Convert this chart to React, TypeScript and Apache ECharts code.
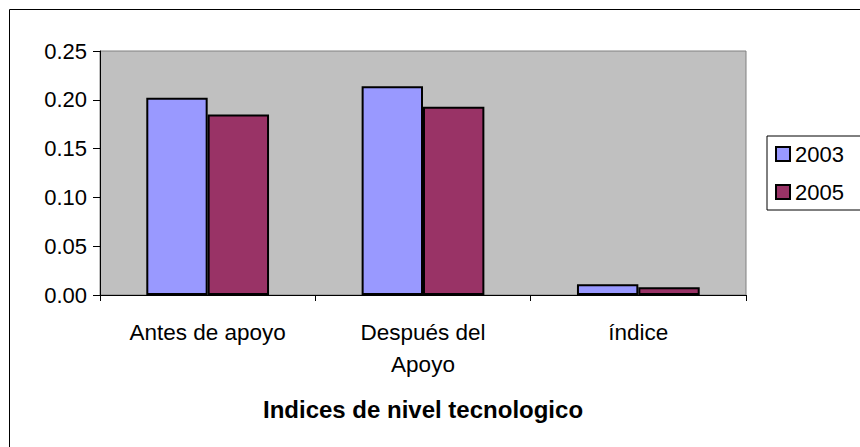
import React, { useEffect, useRef } from "react";
import * as echarts from "echarts";

const categories = ["Antes de apoyo", "Después del\nApoyo", "índice"];
const values2003 = [0.202, 0.214, 0.011];
const values2005 = [0.185, 0.193, 0.008];
const seriesNames = ["2003", "2005"];
const yTicks = { min: 0, max: 0.25, interval: 0.05 };
const axisTitle = "Indices de nivel tecnologico";

const FONT = "Liberation Sans, Arial, sans-serif";

export default function App() {
  const ref = useRef<HTMLDivElement>(null);
  useEffect(() => {
    if (!ref.current) return;
    const chart = echarts.init(ref.current, null, { renderer: "svg" });
    chart.setOption({
      animation: false,
      backgroundColor: "#FFFFFF",
      textStyle: { fontFamily: FONT },
      graphic: [
        {
          type: "rect",
          shape: { x: 9.5, y: 9.5, width: 900, height: 500 },
          style: { fill: "none", stroke: "#000", lineWidth: 1 },
          silent: true,
        },
      ],
      grid: {
        left: 100,
        top: 51,
        right: 114,
        bottom: 152,
        show: true,
        backgroundColor: "#C0C0C0",
        borderColor: "#808080",
        borderWidth: 1,
        containLabel: false,
      },
      legend: {
        orient: "vertical",
        left: 767,
        top: 136,
        data: seriesNames,
        icon: "rect",
        itemWidth: 14,
        itemHeight: 14,
        itemGap: 16,
        itemStyle: { borderColor: "#000", borderWidth: 2 },
        borderColor: "#000",
        borderWidth: 1,
        padding: [7, 30, 7, 8],
        textStyle: { fontFamily: FONT, fontSize: 22, color: "#000" },
      },
      xAxis: {
        type: "category",
        data: categories,
        name: axisTitle,
        nameLocation: "middle",
        nameGap: 102,
        nameTextStyle: { fontFamily: FONT, fontSize: 24, fontWeight: "bold", color: "#000" },
        axisLine: { lineStyle: { color: "#000", width: 1 } },
        axisTick: { show: true, length: 6, inside: false, lineStyle: { color: "#000" } },
        axisLabel: {
          fontFamily: FONT,
          fontSize: 22.5,
          color: "#000",
          margin: 21,
          lineHeight: 32,
          interval: 0,
        },
        splitLine: { show: false },
      },
      yAxis: {
        type: "value",
        min: yTicks.min,
        max: yTicks.max,
        interval: yTicks.interval,
        axisLine: { show: true, lineStyle: { color: "#000", width: 1 } },
        axisTick: { show: true, length: 7, lineStyle: { color: "#000" } },
        axisLabel: {
          fontFamily: FONT,
          fontSize: 22,
          color: "#000",
          margin: 13,
          formatter: (v: number) => v.toFixed(2),
        },
        splitLine: { show: false },
      },
      series: [
        {
          name: seriesNames[0],
          type: "bar",
          data: values2003,
          barGap: "0%",
          barCategoryGap: "43%",
          itemStyle: { color: "#9999FF", borderColor: "#000", borderWidth: 2 },
        },
        {
          name: seriesNames[1],
          type: "bar",
          data: values2005,
          barGap: "0%",
          barCategoryGap: "43%",
          itemStyle: { color: "#993366", borderColor: "#000", borderWidth: 2 },
        },
      ],
    });
    return () => chart.dispose();
  }, []);
  return (
    <div
      ref={ref}
      style={{ position: "fixed", left: 0, top: 0, width: 860, height: 447 }}
    />
  );
}
